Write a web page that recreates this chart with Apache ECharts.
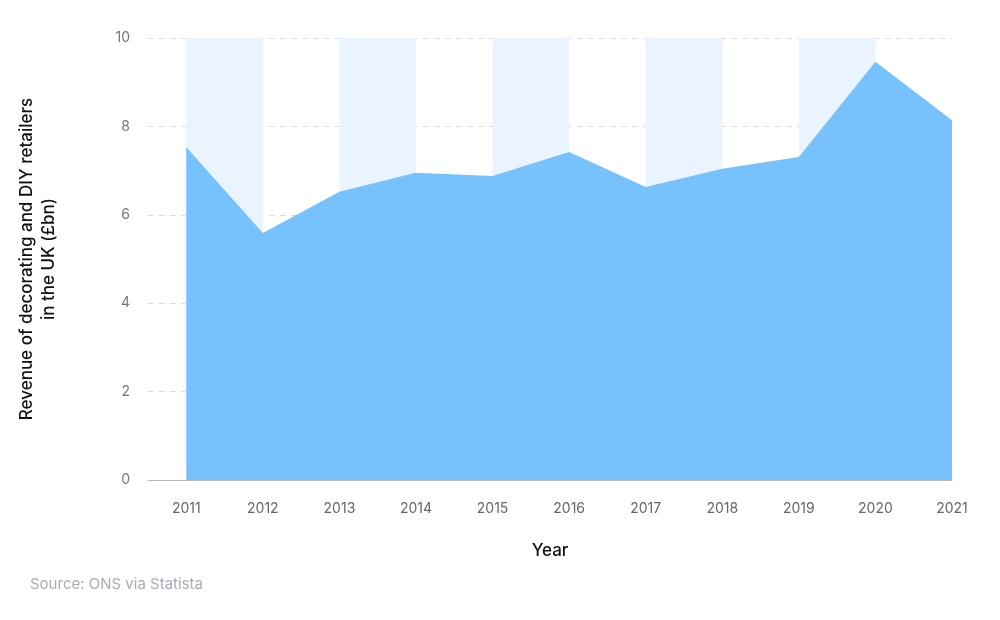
<!DOCTYPE html>
<html><head><meta charset="utf-8">
<script src="https://cdn.jsdelivr.net/npm/echarts@6/dist/echarts.min.js"></script>
<style>html,body{margin:0;padding:0;background:#fff}#c{width:1000px;height:620px}</style>
</head><body><div id="c"></div>
<script>
const years = [2011,2012,2013,2014,2015,2016,2017,2018,2019,2020,2021];
const revenue = [7.53,5.59,6.52,6.95,6.88,7.42,6.63,7.04,7.31,9.46,8.14];
const bands = [[2011,2012],[2013,2014],[2015,2016],[2017,2018],[2019,2020]];
const yTicks = [0,2,4,6,8,10];
const font = 'Inter, "Open Sans", sans-serif';
const chart = echarts.init(document.getElementById('c'));
chart.setOption({
  animation:false,
  grid:{left:148,right:48,top:38,bottom:140},
  xAxis:{type:'value',min:2010.5,max:2021,interval:0.5,
    name:'Year',nameLocation:'middle',nameGap:62,
    nameTextStyle:{color:'#111',fontSize:17,fontWeight:500,fontFamily:font},
    axisLine:{show:true,lineStyle:{color:'#bbb'}},axisTick:{show:false},splitLine:{show:false},
    axisLabel:{color:'#666',fontSize:14,fontFamily:font,margin:22,
      formatter:v=>Number.isInteger(v)&&years.includes(v)?String(v):''}},
  yAxis:{type:'value',min:0,max:10,interval:2,
    name:'Revenue of decorating and DIY retailers\nin the UK (£bn)',nameLocation:'middle',nameGap:88,
    nameTextStyle:{color:'#111',fontSize:17,fontWeight:500,fontFamily:font,lineHeight:22},
    axisLine:{show:false},axisTick:{show:false},
    axisLabel:{color:'#777',fontSize:14,fontFamily:font,margin:18,formatter:v=>yTicks.includes(v)?String(v):''},
    splitLine:{lineStyle:{color:'#ddd',type:[6,5]}}},
  series:[
    {type:'line',data:[],z:1,silent:true,
     markArea:{silent:true,itemStyle:{color:'#eaf4fe'},
       data:bands.map(b=>[{xAxis:b[0],yAxis:0},{xAxis:b[1],yAxis:10}])}},
    {type:'line',z:3,data:years.map((y,i)=>[y,revenue[i]]),symbol:'none',
     lineStyle:{width:0},areaStyle:{color:'#77c1fd',opacity:1}}
  ],
  graphic:[
    {type:'text',left:30,top:577,style:{text:'Source: ONS via Statista',fill:'#aab',fontSize:15,fontFamily:font}},
    {type:'group',left:862,top:393,children:[
      {type:'rect',shape:{x:0,y:0,width:14,height:40,r:4},rotation:0.75,x:22,y:2,
        style:{fill:'none',stroke:'#111',lineWidth:3}},
      {type:'polyline',shape:{points:[[20,6],[14,4],[11,10],[16,32]]},style:{stroke:'#111',lineWidth:3,fill:'none'}},
      {type:'rect',shape:{x:0,y:0,width:7,height:22,r:3},rotation:-0.75,x:3,y:50,
        style:{fill:'none',stroke:'#111',lineWidth:3}}
    ]}
  ]
});
</script></body></html>
